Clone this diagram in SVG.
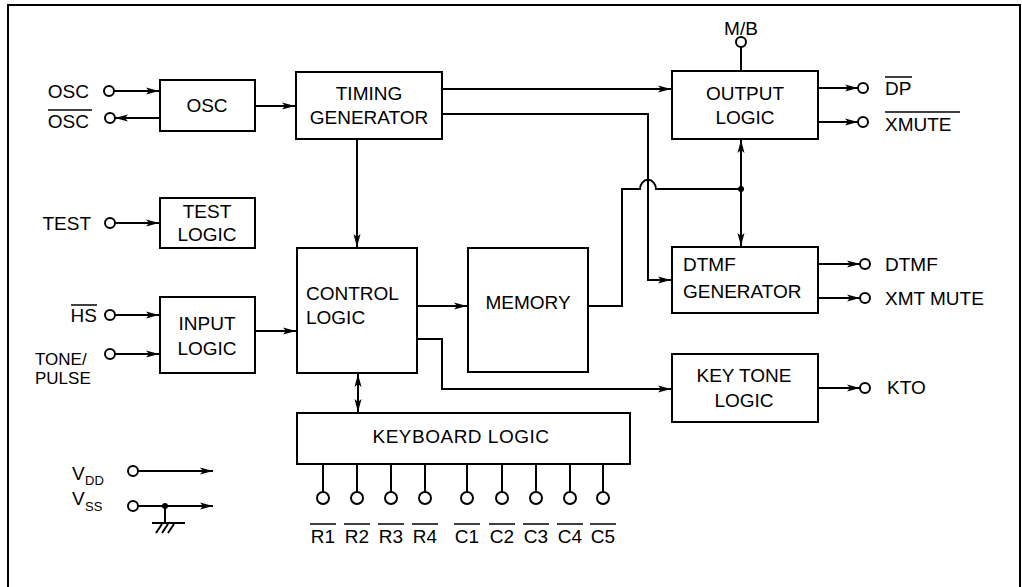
<svg xmlns="http://www.w3.org/2000/svg" width="1022" height="587" viewBox="0 0 1022 587">
<defs>
<marker id="ah" markerUnits="userSpaceOnUse" markerWidth="14" markerHeight="8" refX="13" refY="4" orient="auto">
<path d="M0,0.5 L13,4 L0,7.5 L3,4 z" fill="#000"/>
</marker>
<marker id="ahs" markerUnits="userSpaceOnUse" markerWidth="14" markerHeight="8" refX="0" refY="4" orient="auto">
<path d="M13,0.5 L0,4 L13,7.5 L10,4 z" fill="#000"/>
</marker>
</defs>
<style>
text{font-family:"Liberation Sans",Arial,sans-serif;font-size:19px;fill:#000}
.c{text-anchor:middle}
.e{text-anchor:end}
.box{fill:#fff;stroke:#000;stroke-width:2}
.w{fill:none;stroke:#000;stroke-width:2}
.a{fill:none;stroke:#000;stroke-width:2;marker-end:url(#ah)}
.pin{fill:#fff;stroke:#000;stroke-width:2}
.bar{stroke:#000;stroke-width:1.5}
.sub{font-size:13px}
.sm{font-size:17px}
</style>
<rect width="1022" height="587" fill="#fff"/>
<rect x="8" y="5" width="1012" height="600" fill="none" stroke="#000" stroke-width="2"/>

<g id="connectors">
<line class="a" x1="114" y1="91" x2="159" y2="91"/>
<line class="a" x1="160" y1="118" x2="115" y2="118"/>
<line class="a" x1="255" y1="106" x2="295" y2="106"/>
<line class="a" x1="442" y1="89" x2="671" y2="89"/>
<polyline class="a" points="442,114 648,114 648,280 671,280"/>
<line class="a" x1="357" y1="139" x2="357" y2="247"/>
<path class="w" d="M588,306 L622,306 L622,189 L640,189 A7,8 0 0 1 656,189 L741,189"/>
<circle cx="741" cy="189" r="3" fill="#000"/>
<line class="a" x1="741" y1="189" x2="741" y2="140"/>
<line class="a" x1="741" y1="189" x2="741" y2="246"/>
<line class="w" x1="741" y1="47" x2="741" y2="71"/>
<line class="a" x1="818" y1="88" x2="858" y2="88"/>
<line class="a" x1="818" y1="122" x2="858" y2="122"/>
<line class="a" x1="818" y1="264" x2="860" y2="264"/>
<line class="a" x1="818" y1="298" x2="860" y2="298"/>
<line class="a" x1="818" y1="388" x2="860" y2="388"/>
<line class="a" x1="417" y1="306" x2="467" y2="306"/>
<polyline class="a" points="417,339 442,339 442,389 671,389"/>
<line class="w" x1="358" y1="374" x2="358" y2="412" marker-start="url(#ahs)" marker-end="url(#ah)"/>
<line class="a" x1="115" y1="223" x2="159" y2="223"/>
<line class="a" x1="115" y1="315" x2="159" y2="315"/>
<line class="a" x1="115" y1="354" x2="159" y2="354"/>
<line class="a" x1="255" y1="331" x2="296" y2="331"/>
<line class="a" x1="138" y1="471" x2="213" y2="471"/>
<line class="a" x1="138" y1="506" x2="213" y2="506"/>
<circle cx="165" cy="506" r="3" fill="#000"/>
<line class="w" x1="165" y1="506" x2="165" y2="523"/>
<line class="w" x1="152" y1="523" x2="185" y2="523"/>
<path class="w" stroke-width="1.5" d="M156,533 L162,524 M162,533 L168,524 M168,533 L174,524"/>
<path class="w" d="M323,464 V492 M357,464 V492 M391,464 V492 M425,464 V492 M467,464 V492 M502,464 V492 M536,464 V492 M570,464 V492 M603,464 V492"/>
</g>

<g id="pins">
<circle class="pin" cx="109" cy="91" r="5"/>
<circle class="pin" cx="110" cy="118" r="5"/>
<circle class="pin" cx="110" cy="223" r="5"/>
<circle class="pin" cx="110" cy="315" r="5"/>
<circle class="pin" cx="110" cy="354" r="5"/>
<circle class="pin" cx="133" cy="471" r="5"/>
<circle class="pin" cx="133" cy="506" r="5"/>
<circle class="pin" cx="741" cy="42" r="5"/>
<circle class="pin" cx="863" cy="88" r="5"/>
<circle class="pin" cx="863" cy="122" r="5"/>
<circle class="pin" cx="865" cy="264" r="5"/>
<circle class="pin" cx="865" cy="298" r="5"/>
<circle class="pin" cx="865" cy="388" r="5"/>
<circle class="pin" cx="323" cy="498" r="6"/>
<circle class="pin" cx="357" cy="498" r="6"/>
<circle class="pin" cx="391" cy="498" r="6"/>
<circle class="pin" cx="425" cy="498" r="6"/>
<circle class="pin" cx="467" cy="498" r="6"/>
<circle class="pin" cx="502" cy="498" r="6"/>
<circle class="pin" cx="536" cy="498" r="6"/>
<circle class="pin" cx="570" cy="498" r="6"/>
<circle class="pin" cx="603" cy="498" r="6"/>
</g>

<g id="osc">
<rect class="box" x="160" y="80" width="95" height="51"/>
<text class="c" x="207" y="112">OSC</text>
</g>
<g id="timing">
<rect class="box" x="296" y="72" width="146" height="67"/>
<text class="c" x="369" y="100">TIMING</text>
<text class="c" x="369" y="124">GENERATOR</text>
</g>
<g id="output">
<rect class="box" x="672" y="71" width="146" height="68"/>
<text class="c" x="745" y="100">OUTPUT</text>
<text class="c" x="745" y="124">LOGIC</text>
</g>
<g id="test">
<rect class="box" x="160" y="198" width="95" height="50"/>
<text class="c" x="207" y="218">TEST</text>
<text class="c" x="207" y="241">LOGIC</text>
</g>
<g id="input">
<rect class="box" x="160" y="297" width="95" height="76"/>
<text class="c" x="207" y="330">INPUT</text>
<text class="c" x="207" y="355">LOGIC</text>
</g>
<g id="control">
<rect class="box" x="297" y="248" width="120" height="125"/>
<text x="306" y="300">CONTROL</text>
<text x="306" y="324">LOGIC</text>
</g>
<g id="memory">
<rect class="box" x="468" y="248" width="120" height="124"/>
<text class="c" x="528" y="309">MEMORY</text>
</g>
<g id="dtmf">
<rect class="box" x="672" y="247" width="146" height="66"/>
<text x="683" y="271">DTMF</text>
<text x="683" y="298">GENERATOR</text>
</g>
<g id="keytone">
<rect class="box" x="672" y="354" width="146" height="68"/>
<text class="c" x="744" y="382">KEY TONE</text>
<text class="c" x="744" y="407">LOGIC</text>
</g>
<g id="keyboard">
<rect class="box" x="297" y="413" width="333" height="51"/>
<text class="c" x="461" y="443" letter-spacing="0.5">KEYBOARD LOGIC</text>
</g>

<g id="labels">
<text class="e" x="89" y="98">OSC</text>
<text class="e" x="89" y="128">OSC</text>
<line class="bar" x1="48" y1="110" x2="92" y2="110"/>
<text class="e" x="91" y="230">TEST</text>
<text class="e" x="97" y="322">HS</text>
<line class="bar" x1="71" y1="305" x2="97" y2="305"/>
<text class="sm" x="35" y="365">TONE/</text>
<text class="sm" x="35" y="384">PULSE</text>
<text x="72" y="480">V</text><text class="sub" x="85" y="485">DD</text>
<text x="72" y="505">V</text><text class="sub" x="85" y="511">SS</text>
<text class="c" x="741" y="35">M/B</text>
<text x="885" y="95">DP</text>
<line class="bar" x1="885" y1="77" x2="912" y2="77"/>
<text x="885" y="131">XMUTE</text>
<line class="bar" x1="885" y1="112" x2="960" y2="112"/>
<text x="885" y="271">DTMF</text>
<text x="885" y="305">XMT MUTE</text>
<text x="887" y="394">KTO</text>
<g class="c">
<text x="323" y="543">R1</text>
<text x="357" y="543">R2</text>
<text x="391" y="543">R3</text>
<text x="425" y="543">R4</text>
<text x="467" y="543">C1</text>
<text x="502" y="543">C2</text>
<text x="536" y="543">C3</text>
<text x="570" y="543">C4</text>
<text x="603" y="543">C5</text>
</g>
<path class="bar" d="M310,524 H336 M344,524 H370 M378,524 H404 M412,524 H438 M454,524 H480 M489,524 H515 M523,524 H549 M557,524 H583 M590,524 H616"/>
</g>
</svg>
